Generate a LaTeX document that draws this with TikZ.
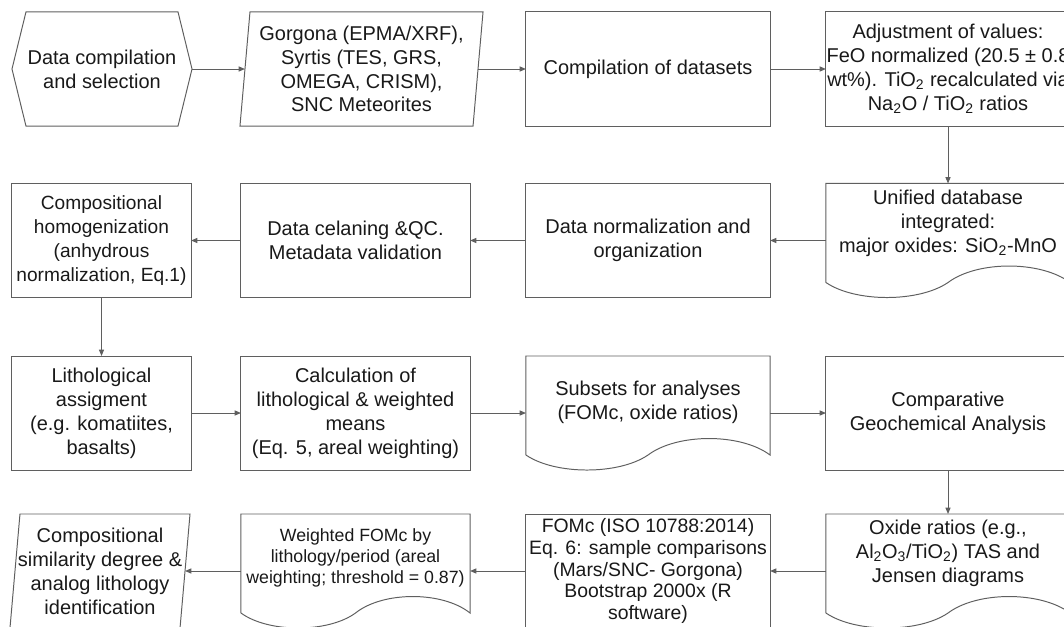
\documentclass[tikz,border=0pt]{standalone}
\usepackage{fontspec}
\setmainfont{Liberation Sans}
\usetikzlibrary{arrows.meta,calc}

\definecolor{linegray}{RGB}{95,95,95}
\definecolor{txtgray}{RGB}{25,25,25}

% document box with a wavy lower edge
\newcommand{\docoutline}[1]{%
  \draw[outline] ($(#1.south west)+(0,-15)$) -- (#1.north west) -- (#1.north east)
    -- ($(#1.south east)+(0,-15)$)
    .. controls ($(#1.south east)!0.12!(#1.south west)+(0,-37)$) and ($(#1.south east)!0.38!(#1.south west)+(0,-37)$) .. ($(#1.south)+(0,-15)$)
    .. controls ($(#1.south east)!0.62!(#1.south west)+(0,5)$) and ($(#1.south east)!0.88!(#1.south west)+(0,5)$) .. ($(#1.south west)+(0,-15)$);}

\begin{document}
\begin{tikzpicture}[x=0.025cm, y=-0.025cm,
    outline/.style={draw=linegray, line width=0.7pt},
    rbox/.style={outline},
    small/.style={font=\fontsize{12.6}{14.8}\selectfont},
  ]
  \useasboundingbox (0,0) rectangle (1064,626);
  \begin{scope}[every node/.style={inner sep=0pt, outer sep=0pt, align=center, text=txtgray,
      font=\fontsize{14.2}{17}\selectfont, minimum height=2.85cm}]
    % row 1
    \node (dcs) [minimum width=4.5cm] at (102,69) {Data compilation\\and selection};
    \node (gor) [minimum width=5.825cm] at (361.5,69) {Gorgona (EPMA/XRF),\\Syrtis (TES, GRS,\\OMEGA, CRISM),\\SNC Meteorites};
    \node (comp) [rbox, minimum width=6.1cm] at (648,69) {Compilation of datasets};
    \node (adj) [rbox, minimum width=6.1cm] at (948,69) {Adjustment of values:\\FeO normalized (20.5 ± 0.8\\wt\%). TiO\textsubscript{2} recalculated via\\Na\textsubscript{2}O / TiO\textsubscript{2} ratios};
    % row 2
    \node (udb) [minimum width=6.1cm] at (948,240.5) {};
    \node (udb-t) at ($(udb)+(0,-17)$) {Unified database\\integrated:\\major oxides: SiO\textsubscript{2}-MnO};
    \node (dno) [rbox, minimum width=6.1cm] at (648,240.5) {Data normalization and\\organization};
    \node (dcl) [rbox, minimum width=5.725cm] at (355.5,240.5) {Data celaning \&QC.\\Metadata validation};
    \node (chom) [rbox, minimum width=4.475cm, font=\fontsize{13.6}{17}\selectfont] at (101.5,240.5) {Compositional\\homogenization\\(anhydrous\\normalization, Eq.1)};
    % row 3
    \node (lit) [rbox, minimum width=4.475cm] at (101.5,413) {Lithological\\assigment\\(e.g. komatiites,\\basalts)};
    \node (cmean) [rbox, minimum width=5.725cm] at (355.5,413) {Calculation of\\lithological \& weighted\\means\\(Eq. 5, areal weighting)};
    \node (sub) [minimum width=6.1cm] at (648,413) {};
    \node (sub-t) at ($(sub)+(0,-11)$) {Subsets for analyses\\(FOMc, oxide ratios)};
    \node (cga) [rbox, minimum width=6.1cm] at (948,413) {Comparative\\Geochemical Analysis};
    % row 4
    \node (oxr) [minimum width=6.1cm] at (948,571) {};
    \node (oxr-t) at ($(oxr)+(0,-18)$) {Oxide ratios (e.g.,\\Al\textsubscript{2}O\textsubscript{3}/TiO\textsubscript{2}) TAS and\\Jensen diagrams};
    \node (fomc) [rbox, minimum width=6.1cm, font=\fontsize{13.8}{15.4}\selectfont] at (648,571) {FOMc (ISO 10788:2014)\\Eq. 6: sample comparisons\\(Mars/SNC- Gorgona)\\Bootstrap 2000x (R\\software)};
    \node (wfo) [minimum width=5.725cm] at (355.5,571) {};
    \node (wfo-t) [small] at ($(wfo)+(0,-13)$) {Weighted FOMc by\\lithology/period (areal\\weighting; threshold = 0.87)};
    \node (csd) [minimum width=4.25cm] at (100,571) {Compositional\\similarity degree \&\\analog lithology\\identification};
  \end{scope}

  \draw[outline] (dcs.west) -- ($(dcs.north west)+(14,0)$) -- ($(dcs.north east)+(-14,0)$) -- (dcs.east)
    -- ($(dcs.south east)+(-14,0)$) -- ($(dcs.south west)+(14,0)$) -- cycle;
  \draw[outline] ($(gor.north west)+(5,0)$) -- ($(gor.north east)+(5,0)$)
    -- ($(gor.south east)+(-5,0)$) -- ($(gor.south west)+(-5,0)$) -- cycle;
  \draw[outline] ($(csd.north west)+(5,0)$) -- ($(csd.north east)+(5,0)$)
    -- ($(csd.south east)+(-5,0)$) -- ($(csd.south west)+(-5,0)$) -- cycle;
  \docoutline{udb}
  \docoutline{sub}
  \docoutline{oxr}
  \docoutline{wfo}

  \begin{scope}[every edge/.style={draw=linegray, line width=0.7pt, -{Triangle[length=4.5pt,width=3.6pt]}}]
    \path (dcs) edge (gor);
    \path (gor) edge (comp);
    \path (comp) edge (adj);
    \path (adj) edge (udb);
    \path (udb) edge (dno);
    \path (dno) edge (dcl);
    \path (dcl) edge (chom);
    \path (chom) edge (lit);
    \path (lit) edge (cmean);
    \path (cmean) edge (sub);
    \path (sub) edge (cga);
    \path (cga) edge (oxr);
    \path (oxr) edge (fomc);
    \path (fomc) edge (wfo);
    \path (wfo) edge (csd);
  \end{scope}
\end{tikzpicture}
\end{document}
